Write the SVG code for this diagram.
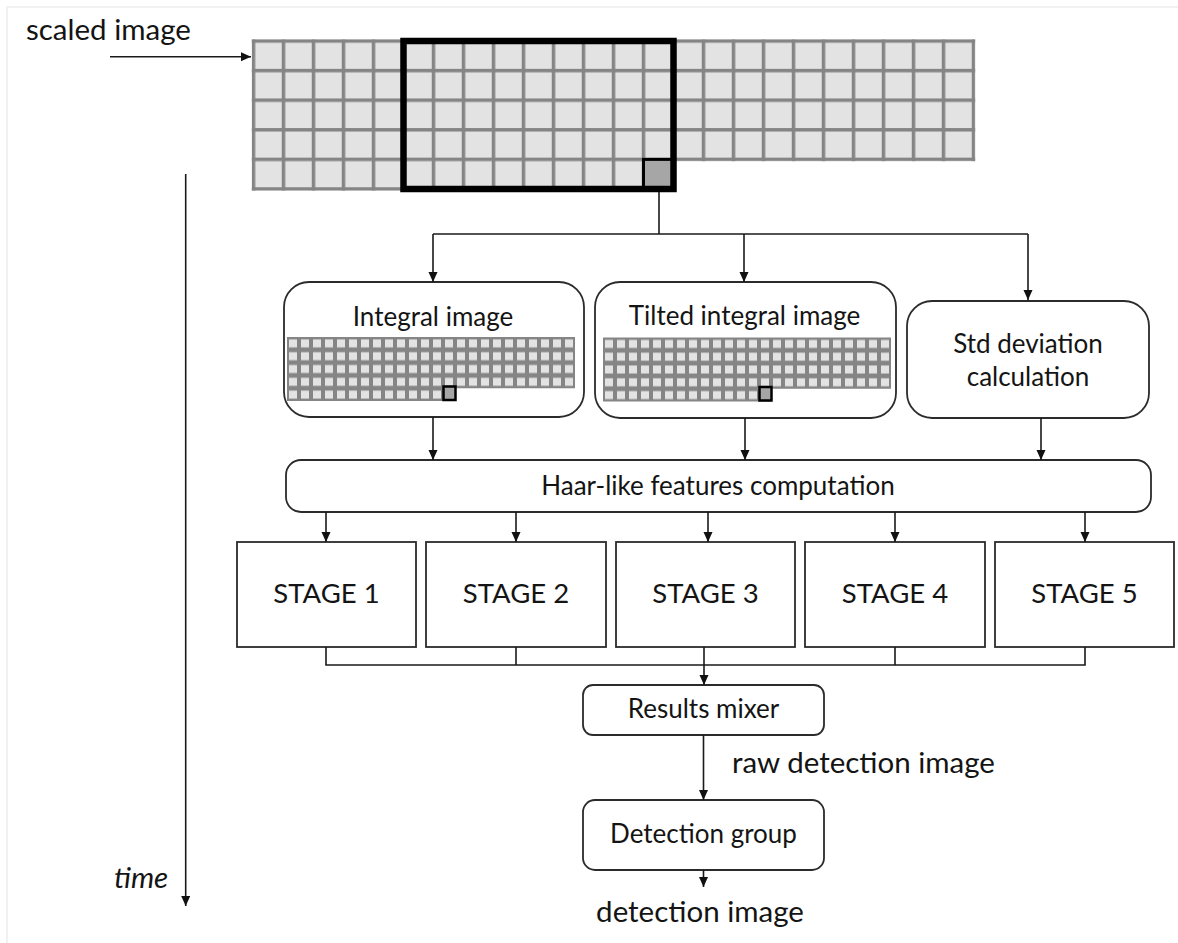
<svg xmlns="http://www.w3.org/2000/svg" width="1178" height="943" viewBox="0 0 1178 943">
<defs>
<style>
.box{fill:#fff;stroke:#2b2b2b;stroke-width:1.8}
.ln{fill:none;stroke:#1a1a1a;stroke-width:1.6}
.lbl{font-family:Lato,"Liberation Sans",sans-serif;fill:#141414}
.big{font-size:29.5px}
.med{font-size:26px}
.stg{font-size:27.5px}
.mid{text-anchor:middle}
</style>
<marker id="ah" markerUnits="userSpaceOnUse" markerWidth="11" markerHeight="10" refX="10" refY="4.5" orient="auto">
<path d="M0,0 L10,4.5 L0,9 z" fill="#111"/>
</marker>
<pattern id="bigcell" patternUnits="userSpaceOnUse" x="251.75" y="39.25" width="30" height="29.6">
<rect width="30" height="29.6" fill="#858585"/>
<rect x="3.5" y="3.5" width="26.5" height="26.1" fill="#e3e3e3"/>
</pattern>
<pattern id="smallcell" patternUnits="userSpaceOnUse" x="0" y="0" width="12" height="12.8">
<rect width="12" height="12.8" fill="#858585"/>
<rect x="2" y="2.4" width="8" height="8" fill="#e3e3e3"/>
</pattern>
</defs>
<rect x="7" y="7" width="1180" height="950" fill="none" stroke="#f1f1f1" stroke-width="2"/>

<g id="scaled-image">
<path d="M251.75,39.25 H975.25 V161.15 H675.25 V190.65 H251.75 Z" fill="url(#bigcell)"/>
<rect x="643.5" y="159.4" width="30" height="29.6" fill="#a6a6a6" stroke="#000" stroke-width="3"/>
<rect x="403.5" y="41" width="270" height="148" fill="none" stroke="#000" stroke-width="6.5"/>
</g>

<g id="label-scaled" class="lbl big"><text x="26" y="40">scaled image</text></g>
<g id="label-time" class="lbl big"><text x="114" y="888" font-style="italic">time</text></g>

<g id="integral-image">
<rect class="box" x="284" y="282" width="300" height="135" rx="25"/>
<text class="lbl med mid" x="433" y="326">Integral image</text>
<g transform="translate(287,337)">
<path d="M0,0 H288 V51.2 H168 V64 H0 Z" fill="url(#smallcell)"/>
<rect x="156.5" y="49.5" width="12" height="13.5" fill="#a6a6a6" stroke="#000" stroke-width="2.5"/>
</g>
</g>

<g id="tilted-integral-image">
<rect class="box" x="595" y="282" width="301" height="136" rx="25"/>
<text class="lbl med mid" x="744.5" y="325">Tilted integral image</text>
<g transform="translate(603,337.5)">
<path d="M0,0 H288 V51.2 H168 V64 H0 Z" fill="url(#smallcell)"/>
<rect x="156.5" y="49.5" width="12" height="13.5" fill="#a6a6a6" stroke="#000" stroke-width="2.5"/>
</g>
</g>

<g id="std-deviation">
<rect class="box" x="907" y="301" width="242" height="117" rx="25"/>
<text class="lbl med mid" x="1028" y="353">Std deviation</text>
<text class="lbl med mid" x="1028" y="386">calculation</text>
</g>

<g id="haar">
<rect class="box" x="286" y="460" width="865" height="52" rx="15"/>
<text class="lbl med mid" x="718" y="495">Haar-like features computation</text>
</g>

<g id="stage1"><rect class="box" x="237" y="542" width="179" height="105"/><text class="lbl stg mid" x="326.5" y="603">STAGE 1</text></g>
<g id="stage2"><rect class="box" x="426" y="542" width="180" height="105"/><text class="lbl stg mid" x="516" y="603">STAGE 2</text></g>
<g id="stage3"><rect class="box" x="616" y="542" width="179" height="105"/><text class="lbl stg mid" x="705.5" y="603">STAGE 3</text></g>
<g id="stage4"><rect class="box" x="805" y="542" width="180" height="105"/><text class="lbl stg mid" x="895" y="603">STAGE 4</text></g>
<g id="stage5"><rect class="box" x="995" y="542" width="179" height="105"/><text class="lbl stg mid" x="1084.5" y="603">STAGE 5</text></g>

<g id="results-mixer">
<rect class="box" x="583" y="685" width="241" height="50" rx="10"/>
<text class="lbl med mid" x="703.5" y="718">Results mixer</text>
</g>

<g id="detection-group">
<rect class="box" x="583" y="800" width="241" height="70" rx="12"/>
<text class="lbl med mid" x="703.5" y="843">Detection group</text>
</g>

<g id="label-raw" class="lbl big"><text x="732" y="773">raw detection image</text></g>
<g id="label-detection" class="lbl big"><text x="700" y="922" text-anchor="middle">detection image</text></g>

<g id="connectors" class="ln">
<path d="M110,56.7 H251" marker-end="url(#ah)"/>
<path d="M185.7,174 V906" marker-end="url(#ah)"/>
<path d="M659,192 V234"/>
<path d="M433,234 H1028"/>
<path d="M433,234 V282" marker-end="url(#ah)"/>
<path d="M744,234 V282" marker-end="url(#ah)"/>
<path d="M1028,234 V300" marker-end="url(#ah)"/>
<path d="M433,417 V460" marker-end="url(#ah)"/>
<path d="M745,418 V460" marker-end="url(#ah)"/>
<path d="M1041,418 V460" marker-end="url(#ah)"/>
<path d="M326,512 V542" marker-end="url(#ah)"/>
<path d="M516,512 V542" marker-end="url(#ah)"/>
<path d="M708,512 V542" marker-end="url(#ah)"/>
<path d="M895,512 V542" marker-end="url(#ah)"/>
<path d="M1085,512 V542" marker-end="url(#ah)"/>
<path d="M326,647 V665 H1085 V647"/>
<path d="M516,647 V665"/>
<path d="M895,647 V665"/>
<path d="M704,647 V685" marker-end="url(#ah)"/>
<path d="M703.5,735 V800" marker-end="url(#ah)"/>
<path d="M703.5,870 V887" marker-end="url(#ah)"/>
</g>
</svg>
